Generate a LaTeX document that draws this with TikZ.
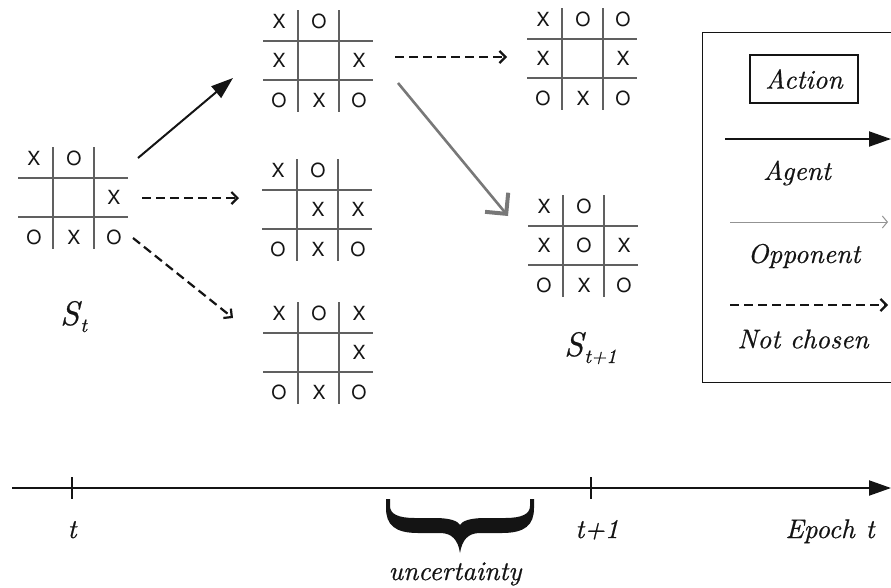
\documentclass[tikz,border=0pt]{standalone}
\usepackage{fontspec}
\newfontfamily\boardfont{TeX Gyre Heros}
\newfontfamily\lblfont[FakeBold=0.6]{lmroman10-italic.otf}
\usetikzlibrary{arrows.meta}
\definecolor{gridgray}{HTML}{606060}
\definecolor{oppgray}{HTML}{787878}
\definecolor{inkblack}{HTML}{141414}
\tikzset{
  boardbox/.style={minimum width=110pt,minimum height=102pt,inner sep=0pt,draw=none},
  gridline/.style={draw=gridgray,line width=1.3pt},
  cellmark/.style={inner sep=0pt,text=inkblack,font=\boardfont\fontsize{19.5}{20}\selectfont},
  lbl/.style={inner sep=0pt,text=inkblack,font=\lblfont\fontsize{27}{30}\selectfont},
  statelbl/.style={inner sep=0pt,anchor=base west,text=inkblack,font=\lblfont\fontsize{34}{38}\selectfont},
  agentarrow/.style={draw=inkblack,line width=2pt,-{Triangle[length=22pt,width=15pt]}},
  dasharrow/.style={draw=inkblack,line width=2.2pt,dash pattern=on 9pt off 5pt,-{Straight Barb[length=6pt,width=12pt,line width=2.2pt]}},
  opparrow/.style={draw=oppgray,line width=2.6pt,-{Straight Barb[length=15pt,width=30pt,line width=4pt]}},
  oppthin/.style={draw=oppgray!80,line width=1pt,-{Straight Barb[length=5pt,width=12pt,line width=1pt]}},
  axisline/.style={draw=inkblack,line width=2pt},
}
\newcommand{\statesub}[1]{\hspace{1pt}\raisebox{-7pt}{\fontsize{20}{22}\selectfont #1}}
\newcommand{\tttboard}[4]{%
  \begin{scope}[shift={(#2,#3)}]
    \node[boardbox] (#1) at (55,51) {};
    \draw[gridline] (35,0) -- (35,102);
    \draw[gridline] (76,0) -- (76,102);
    \draw[gridline] (0,31) -- (110,31);
    \draw[gridline] (0,70) -- (110,70);
    \foreach \cc/\rr/\ss in {#4}
      \node[cellmark] (#1-\cc\rr) at ({16+40*(\cc-1)},{11+39.5*(\rr-1)}) {\ss};
  \end{scope}}
\begin{document}
\begin{tikzpicture}[x=1pt,y=-1pt]
\useasboundingbox (0,0) rectangle (891,587);
\clip (0,0) rectangle (891,587);
% boards
\tttboard{b1}{18}{147}{1/1/X,2/1/O,3/2/X,1/3/O,2/3/X,3/3/O}
\tttboard{b2}{263}{10}{1/1/X,2/1/O,1/2/X,3/2/X,1/3/O,2/3/X,3/3/O}
\tttboard{b3}{527}{8}{1/1/X,2/1/O,3/1/O,1/2/X,3/2/X,1/3/O,2/3/X,3/3/O}
\tttboard{b4}{262}{159}{1/1/X,2/1/O,2/2/X,3/2/X,1/3/O,2/3/X,3/3/O}
\tttboard{b5}{263}{302}{1/1/X,2/1/O,3/1/X,3/2/X,1/3/O,2/3/X,3/3/O}
\tttboard{b6}{528}{195}{1/1/X,2/1/O,1/2/X,2/2/O,3/2/X,1/3/O,2/3/X,3/3/O}
% state labels
\node[statelbl] (st) at (60,325) {S\statesub{t}};
\node[statelbl] (st1) at (564,356) {S\statesub{t+1}};
% arrow end points
\coordinate (a1s) at (138,158);
\coordinate (a1e) at (233,78);
\coordinate (d1s) at (142,198);
\coordinate (d1e) at (239,198);
\coordinate (d2s) at (133,238);
\coordinate (d2e) at (233,318);
\coordinate (d3s) at (395,57);
\coordinate (d3e) at (507,57);
\coordinate (o1s) at (398,83);
\coordinate (o1e) at (508,216);
\draw[agentarrow] (a1s) -- (a1e);
\draw[dasharrow] (d1s) -- (d1e);
\draw[dasharrow] (d2s) -- (d2e);
\draw[dasharrow] (d3s) -- (d3e);
\draw[opparrow] (o1s) -- (o1e);
% legend
\node[draw=inkblack,line width=1.4pt,minimum width=220pt,minimum height=350pt,inner sep=0pt,anchor=north west] (legend) at (702,32) {};
\node[lbl,draw=inkblack,line width=1.2pt,minimum width=108pt,minimum height=48pt] (action) at (804,79) {Action};
\coordinate (la1) at (725,139);
\coordinate (la2) at (891,139);
\draw[agentarrow] (la1) -- (la2);
\node[lbl] (lagent) at (797,173) {Agent};
\coordinate (lo1) at (730,222);
\coordinate (lo2) at (888,222);
\draw[oppthin] (lo1) -- (lo2);
\node[lbl] (lopp) at (804,256) {Opponent};
\coordinate (ln1) at (730,305);
\coordinate (ln2) at (888,305);
\draw[dasharrow] (ln1) -- (ln2);
\node[lbl] (lnot) at (803,339) {Not chosen};
% timeline
\coordinate (ax0) at (12,488);
\coordinate (ax1) at (891,488);
\draw[axisline,-{Triangle[length=22pt,width=15pt]}] (ax0) -- (ax1);
\coordinate (tk1a) at (72,477);
\coordinate (tk1b) at (72,499);
\coordinate (tk2a) at (591,477);
\coordinate (tk2b) at (591,499);
\draw[axisline] (tk1a) -- (tk1b);
\draw[axisline] (tk2a) -- (tk2b);
\node[lbl,anchor=base] (tlab) at (72,538) {t};
\node[lbl,anchor=base] (t1lab) at (597,538) {t+1};
\node[lbl,anchor=base] (eplab) at (830,538) {Epoch\hspace{0.4em}t};
% brace
\fill[inkblack] (386,499) -- (386,508) .. controls (386,525) and (395,533) .. (418,533) -- (440,533)
  .. controls (452,533) and (458,540) .. (460,553)
  .. controls (462,540) and (468,533) .. (480,533) -- (502,533)
  .. controls (525,533) and (534,525) .. (534,508) -- (534,499) -- (530,499) -- (530,506)
  .. controls (530,514) and (522,518) .. (505,518) -- (485,518)
  .. controls (470,518) and (462,521) .. (460,525)
  .. controls (458,521) and (450,518) .. (435,518) -- (415,518)
  .. controls (398,518) and (390,514) .. (390,506) -- (390,499) -- cycle;
\node[lbl,anchor=base] (unc) at (455,580) {uncertainty};
\end{tikzpicture}
\end{document}
